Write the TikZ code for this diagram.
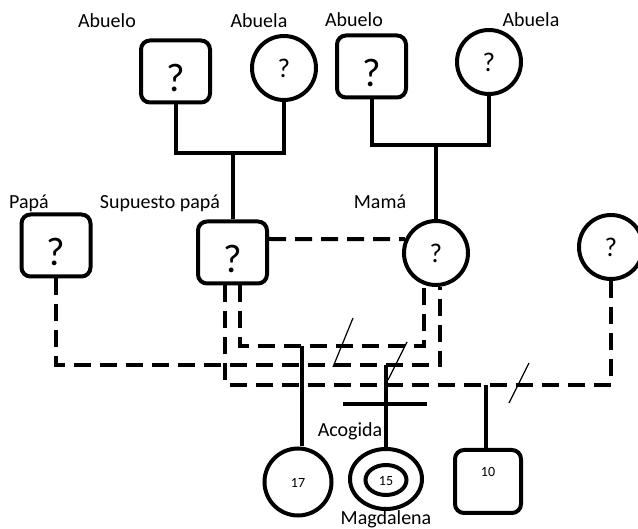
\documentclass[tikz,border=0pt]{standalone}
\usepackage{fontspec}
\setmainfont{Carlito}
\usetikzlibrary{shapes.geometric}
\begin{document}
\begin{tikzpicture}[x=1pt,y=-1pt,
 lw/.style={line width=4pt},
 male/.style={draw,lw,rounded corners=9pt,minimum width=69pt,minimum height=62pt,inner sep=0pt},
 fem/.style={draw,lw,circle,minimum size=64pt,inner sep=0pt},
 bigq/.style={font=\fontsize{40}{40}\selectfont,text height=40pt,text depth=0pt},
 smallq/.style={font=\fontsize{27}{27}\selectfont},
 lbl/.style={font=\fontsize{20}{24}\selectfont,anchor=base,inner sep=0pt},
 rel/.style={lw,dash pattern=on 17pt off 9pt},
 slash/.style={line width=1.2pt},
 num/.style={font=\fontsize{14}{16}\selectfont}
]
\useasboundingbox (0,0) rectangle (638,529);

% persons
\node[male,bigq] (ab1) at (175.5,71.5) {?};
\node[fem,smallq] (aa1) at (284,68) {?};
\node[male,bigq] (ab2) at (371.5,66.5) {?};
\node[fem,smallq] (aa2) at (489,62) {?};
\node[male,bigq] (papa) at (56,245.5) {?};
\node[male,bigq] (sp) at (232.5,252.5) {?};
\node[fem,smallq] (mama) at (436,253) {?};
\node[fem,smallq] (rw) at (611,247) {?};
\node[fem,minimum size=67pt,num,text height=12pt,text depth=0pt] (c17) at (298,482) {17};
\node[draw,lw,ellipse,minimum width=72pt,minimum height=60pt,inner sep=0pt] (mag) at (386,479) {};
\node[draw,lw,ellipse,minimum width=41pt,minimum height=30pt,inner sep=0pt,num,text height=12pt,text depth=0pt] (magin) at (386,480) {15};
\node[male,num,minimum width=66pt,minimum height=63pt,text height=0pt,text depth=9pt] (b10) at (488,481.5) {10};

% labels
\node[lbl] (l1) at (107,28) {Abuelo};
\node[lbl] (l2) at (259,28) {Abuela};
\node[lbl] (l3) at (354,27) {Abuelo};
\node[lbl] (l4) at (531,27) {Abuela};
\node[lbl] (l5) at (29,209) {Papá};
\node[lbl] (l6) at (160,209) {Supuesto papá};
\node[lbl] (l7) at (380,209) {Mamá};
\node[lbl] (l8) at (350,437) {Acogida};
\node[lbl] (l9) at (386,525) {Magdalena};

% junctions
\coordinate (j1) at (232.5,153);
\coordinate (j2) at (436,145);
\coordinate (k1) at (386,365);
\coordinate (k2) at (302,346);
\coordinate (k3) at (486,385);
\coordinate (b1) at (343,404);
\coordinate (b2) at (427,404);

% solid descent lines
\draw[lw] (ab1.south) |- (j1) -| (aa1.south);
\draw[lw] (j1) -- (sp.north);
\draw[lw] (ab2.south) |- (j2) -| (aa2.south);
\draw[lw] (j2) -- (mama.north);

% dashed relationships
\draw[rel] ([yshift=13.5pt]sp.east) -- (mama.156);
\draw[rel] (papa.south) |- (k1) -| (mama.-83);
\draw[rel] ([xshift=7.5pt]sp.south) |- (k2) -| (mama.-110);
\draw[rel] ([xshift=-7.5pt]sp.south) |- (k3) -| (rw.south);

% children
\draw[lw] (k2) -- (k2 |- c17.north);
\draw[lw] (k1) -- (mag.north);
\draw[lw] (k3) -- (k3 |- b10.north);
\draw[lw] (b1) -- (b2);

% separation slashes
\coordinate (s1a) at (333,367); \coordinate (s1b) at (353,318);
\coordinate (s2a) at (388,380); \coordinate (s2b) at (407,342);
\coordinate (s3a) at (509,403); \coordinate (s3b) at (529,363);
\draw[slash] (s1a) -- (s1b);
\draw[slash] (s2a) -- (s2b);
\draw[slash] (s3a) -- (s3b);
\end{tikzpicture}
\end{document}
